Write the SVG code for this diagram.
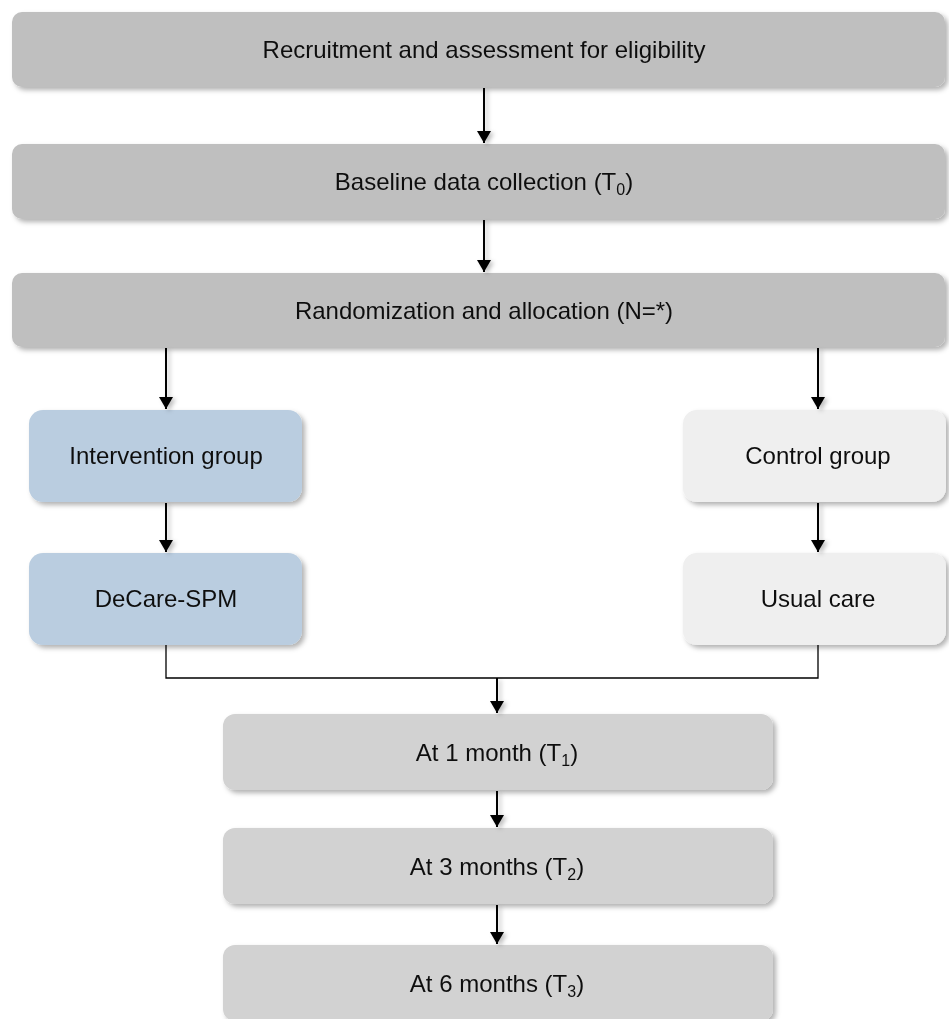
<svg xmlns="http://www.w3.org/2000/svg" width="949" height="1019" viewBox="0 0 949 1019">
<style>
.lbl{font-family:"Liberation Sans",Arial,sans-serif;font-size:24px;fill:#111;text-anchor:middle}
.sub{font-size:16px}
.gray{fill:#bfbfbf}
.lgray{fill:#d2d2d2}
.blue{fill:#bacde0}
.white{fill:#efefef}
.arrow{stroke:#000;stroke-width:2;fill:none;marker-end:url(#ah)}
.line{stroke:#000;stroke-width:1.3;fill:none}
</style>
<defs>
<filter id="sh" x="-5%" y="-20%" width="110%" height="150%">
<feDropShadow dx="3" dy="3" stdDeviation="2.5" flood-color="#000" flood-opacity="0.3"/>
</filter>
<filter id="ash" x="-200%" y="-20%" width="500%" height="150%">
<feDropShadow dx="3" dy="2" stdDeviation="2" flood-color="#000" flood-opacity="0.25"/>
</filter>
<marker id="ah" viewBox="0 0 12 14" refX="12" refY="7" markerWidth="12" markerHeight="14" markerUnits="userSpaceOnUse" orient="auto">
<path d="M0,0 L12,7 L0,14 Z" fill="#000"/>
</marker>
</defs>

<g id="n1" filter="url(#sh)"><rect class="gray" x="12" y="12" width="933" height="75" rx="10"/><text class="lbl" x="484" y="58">Recruitment and assessment for eligibility</text></g>
<g id="n2" filter="url(#sh)"><rect class="gray" x="12" y="144" width="933" height="75" rx="10"/><text class="lbl" x="484" y="190">Baseline data collection (T<tspan class="sub" dy="5">0</tspan><tspan dy="-5">)</tspan></text></g>
<g id="n3" filter="url(#sh)"><rect class="gray" x="12" y="273" width="933" height="74" rx="10"/><text class="lbl" x="484" y="319">Randomization and allocation (N=*)</text></g>
<g id="n4" filter="url(#sh)"><rect class="blue" x="29" y="410" width="273" height="92" rx="14"/><text class="lbl" x="166" y="464">Intervention group</text></g>
<g id="n5" filter="url(#sh)"><rect class="white" x="683" y="410" width="263" height="92" rx="14"/><text class="lbl" x="818" y="464">Control group</text></g>
<g id="n6" filter="url(#sh)"><rect class="blue" x="29" y="553" width="273" height="92" rx="14"/><text class="lbl" x="166" y="607">DeCare-SPM</text></g>
<g id="n7" filter="url(#sh)"><rect class="white" x="683" y="553" width="263" height="92" rx="14"/><text class="lbl" x="818" y="607">Usual care</text></g>
<g id="n8" filter="url(#sh)"><rect class="lgray" x="223" y="714" width="550" height="76" rx="12"/><text class="lbl" x="497" y="761">At 1 month (T<tspan class="sub" dy="5">1</tspan><tspan dy="-5">)</tspan></text></g>
<g id="n9" filter="url(#sh)"><rect class="lgray" x="223" y="828" width="550" height="76" rx="12"/><text class="lbl" x="497" y="875">At 3 months (T<tspan class="sub" dy="5">2</tspan><tspan dy="-5">)</tspan></text></g>
<g id="n10" filter="url(#sh)"><rect class="lgray" x="223" y="945" width="550" height="76" rx="12"/><text class="lbl" x="497" y="992">At 6 months (T<tspan class="sub" dy="5">3</tspan><tspan dy="-5">)</tspan></text></g>

<g id="connectors">
<g filter="url(#ash)">
<line class="arrow" x1="484" y1="88" x2="484" y2="143"/>
<line class="arrow" x1="484" y1="220" x2="484" y2="272"/>
<line class="arrow" x1="166" y1="348" x2="166" y2="409"/>
<line class="arrow" x1="818" y1="348" x2="818" y2="409"/>
<line class="arrow" x1="166" y1="503" x2="166" y2="552"/>
<line class="arrow" x1="818" y1="503" x2="818" y2="552"/>
<line class="arrow" x1="497" y1="678" x2="497" y2="713"/>
<line class="arrow" x1="497" y1="791" x2="497" y2="827"/>
<line class="arrow" x1="497" y1="905" x2="497" y2="944"/>
</g>
<polyline class="line" points="166,645 166,678 818,678 818,645"/>
</g>
</svg>
